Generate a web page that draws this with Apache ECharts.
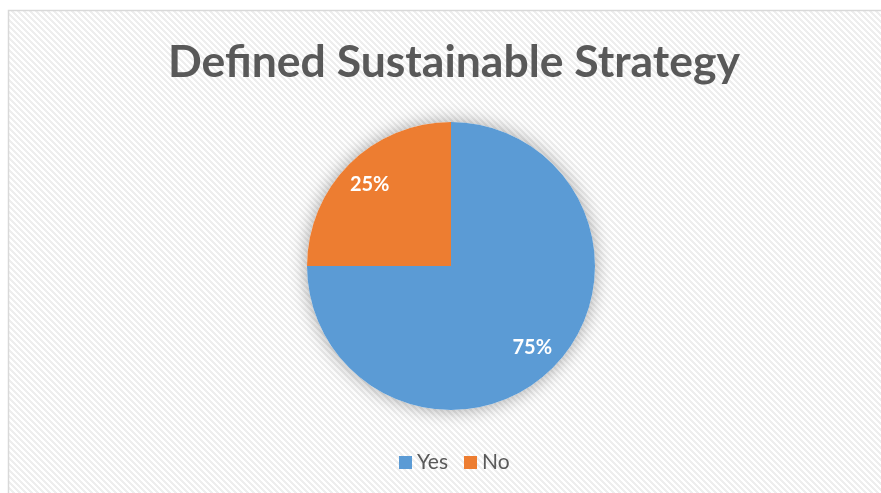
<!DOCTYPE html>
<html><head><meta charset="utf-8">
<script src="https://cdn.jsdelivr.net/npm/echarts@6/dist/echarts.min.js"></script>
<style>html,body{margin:0;padding:0;background:#fff}#c{width:881px;height:493px}</style>
</head><body><div id="c"></div>
<script>
const title = 'Defined Sustainable Strategy';
const categories = ['Yes', 'No'];
const values = [75, 25];
const colors = ['#5B9BD5', '#ED7D31'];

const tile = document.createElement('canvas');
tile.width = 6; tile.height = 6;
const tctx = tile.getContext('2d');
tctx.fillStyle = '#ffffff'; tctx.fillRect(0,0,6,6);
tctx.fillStyle = '#eeeeee';
for (let y = 0; y < 6; y++) for (let x = 0; x < 6; x++) {
  const d = ((x - y) % 6 + 6) % 6;
  if (d < 3) tctx.fillRect(x, y, 1, 1);
}

const data = categories.map((c, i) => ({ name: c, value: values[i], itemStyle: { color: colors[i] } }));
const chart = echarts.init(document.getElementById('c'), null, { renderer: 'canvas' });
chart.setOption({
  backgroundColor: '#ffffff',
  graphic: [
    { type: 'rect', z: -10, silent: true, shape: { x: 8.5, y: 10.5, width: 900, height: 500 },
      style: { fill: { image: tile, repeat: 'repeat' }, stroke: '#d9d9d9', lineWidth: 1.5 } }
  ],
  title: {
    text: title, left: 163, top: 35,
    textStyle: { fontFamily: 'Lato', fontWeight: 'bold', fontSize: 44.5, color: '#595959' }
  },
  legend: {
    data: categories, bottom: 15, left: 394, itemWidth: 13, itemHeight: 13, itemGap: 16,
    icon: 'rect',
    textStyle: { fontFamily: 'Lato', fontSize: 21, color: '#595959' }
  },
  series: [
    { type: 'pie', radius: [0, 144], center: [451, 266], z: 2,
      startAngle: 90, clockwise: true, data: data,
      itemStyle: { borderWidth: 0 },
      label: { show: false }, labelLine: { show: false } },
    { type: 'pie', radius: [0, 144], center: [451, 266], silent: true, z: 1,
      data: data.map(d => ({ name: d.name, value: d.value, itemStyle: { color: '#ffffff', shadowBlur: 18, shadowColor: 'rgba(0,0,0,0.35)' } })),
      label: { show: false }, labelLine: { show: false }, legendHoverLink: false },
    { type: 'pie', radius: [80, 144], center: [451, 266], z: 3, silent: true,
      data: data.map(d => ({ name: d.name, value: d.value, itemStyle: { color: 'rgba(0,0,0,0)' } })),
      label: { show: true, position: 'inside', formatter: '{d}%', color: '#ffffff',
        fontFamily: 'Lato', fontWeight: 'bold', fontSize: 20 },
      labelLine: { show: false } }
  ]
});
</script></body></html>
